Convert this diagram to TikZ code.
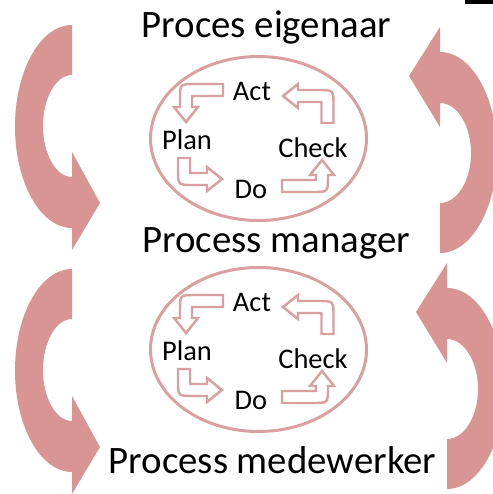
\documentclass[tikz,border=0pt]{standalone}
\usepackage{fontspec}
\setmainfont{Carlito}
\usepackage{xcolor}
\usepackage{tikz}

\definecolor{rosefill}{HTML}{D99594}
\definecolor{roseline}{HTML}{D9A09F}

\tikzset{
  bigarrow/.style={fill=rosefill, draw=none},
  ring/.style={draw=roseline, line width=1.7pt},
  smallarrow/.style={draw=roseline, fill=white, line width=1.4pt, line join=miter},
  title/.style={anchor=base, inner sep=0pt, font=\fontsize{22.1}{26}\selectfont},
  steplabel/.style={anchor=base, inner sep=0pt, font=\fontsize{16.2}{19}\selectfont},
  pics/bentarrow/.style 2 args={code={
    \draw[smallarrow] (0,-6) -- (-#1+9,-6) .. controls (-#1-6,-6) .. (-#1-6,9) -- (-#1-6,#2-15)
      -- (-#1-12,#2-15) -- (-#1,#2) -- (-#1+12,#2-15) -- (-#1+6,#2-15) -- (-#1+6,8)
      .. controls (-#1+6,6) .. (-#1+8,6) -- (0,6) -- cycle;
  }}
}

\begin{document}
\begin{tikzpicture}[x=0.02cm, y=-0.02cm]
\useasboundingbox (0,0) rectangle (493,494);
\clip (0,0) rectangle (493,494);
\fill (465,0) rectangle (493,4);

% left arrows, pointing down
\foreach \dy in {0,244}{
\draw[bigarrow] (72,25+\dy) arc[start angle=270, end angle=90, x radius=57, y radius=101.5]
  -- (72,250+\dy) -- (100,203+\dy) -- (72,152+\dy) -- (72,177+\dy)
  arc[start angle=90, end angle=270, x radius=29, y radius=51] -- cycle;
}
% right arrows, pointing up
\foreach \x/\dy in {440/0,447/236}{
\draw[bigarrow] (\x,253+\dy) arc[start angle=90, end angle=-90, x radius=57, y radius=100.5]
  -- (\x,27+\dy) -- (\x-31,76+\dy) -- (\x,127+\dy) -- (\x,103+\dy)
  arc[start angle=-90, end angle=90, x radius=31, y radius=50] -- cycle;
}

\node[title] (eigenaar) at (266.5,37) {Proces eigenaar};
\node[title] (manager) at (276,252) {Process manager};
\node[title] (medewerker) at (272.5,473) {Process medewerker};

\foreach \i/\dy in {1/0,2/211}{
\begin{scope}[shift={(0,\dy)}]
\draw[ring] (258.5,138.5) ellipse[x radius=108, y radius=82];
\node[steplabel] (act\i) at (252,100) {Act};
\node[steplabel] (plan\i) at (187,149) {Plan};
\node[steplabel] (do\i) at (251,198) {Do};
\node[steplabel] (check\i) at (313,157) {Check};
\pic at (223,90) {bentarrow={37}{32}};
\pic[rotate=90] at (184,158) {bentarrow={21}{38}};
\pic[rotate=180] at (282,186) {bentarrow={40}{26}};
\pic[rotate=-90] at (327.5,123) {bentarrow={27}{44.5}};
\end{scope}
}
\end{tikzpicture}
\end{document}
